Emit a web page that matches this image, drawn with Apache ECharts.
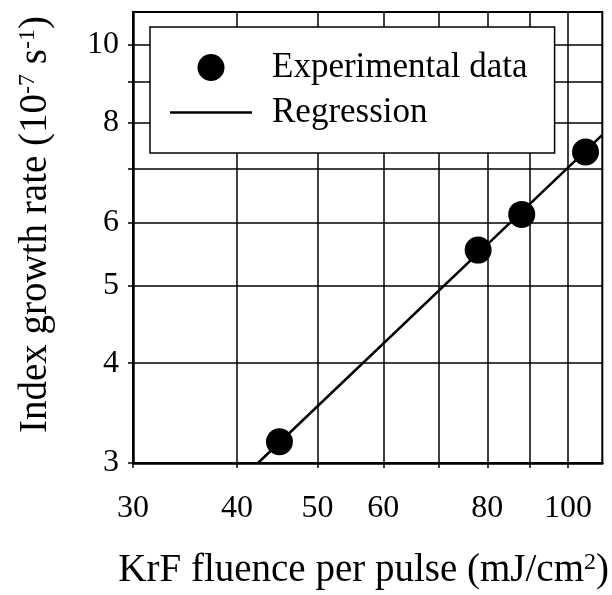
<!DOCTYPE html>
<html>
<head>
<meta charset="utf-8">
<script src="https://cdn.jsdelivr.net/npm/echarts@6/dist/echarts.min.js"></script>
<style>
html,body{margin:0;padding:0;background:#fff;}
#c{width:612px;height:595px;}
</style>
</head>
<body>
<div id="c"></div>
<script>
// Data
var fluence = [45, 78, 88, 105];            // mJ/cm^2
var growthRate = [3.19, 5.54, 6.14, 7.35];  // 1e-7 s^-1
var regressionX = [42.4, 110];
var regressionY = [3.0, 7.72];
var xTicks = [30, 40, 50, 60, 70, 80, 90, 100];
var xLabels = [30, 40, 50, 60, 80, 100];
var yTicks = [3, 4, 5, 6, 7, 8, 9, 10];
var yLabels = [3, 4, 5, 6, 8, 10];

var FONT = 'Liberation Serif';
var expData = fluence.map(function (x, i) { return [x, growthRate[i]]; });
var regData = regressionX.map(function (x, i) { return [x, regressionY[i]]; });

var chart = echarts.init(document.getElementById('c'));
chart.setOption({
  backgroundColor: '#fff',
  animation: false,
  grid: {
    left: 133, right: 6, top: 12, bottom: 127,
    show: true, borderColor: '#000', borderWidth: 2, backgroundColor: 'transparent'
  },
  xAxis: {
    type: 'log', logBase: 10, min: 30, max: 110,
    name: 'KrF fluence per pulse (mJ/cm{sup|2})',
    nameLocation: 'middle', nameGap: 88,
    nameTextStyle: {
      fontFamily: FONT, fontSize: 39, color: '#000', padding: [0, 8, 0, 0],
      rich: { sup: { fontFamily: FONT, fontSize: 24, color: '#000', verticalAlign: 'top' } }
    },
    axisLine: { show: true, lineStyle: { color: '#000', width: 2.5 } },
    axisTick: { show: true, inside: false, length: 5, customValues: xTicks, lineStyle: { color: '#000', width: 1.5 } },
    axisLabel: { customValues: xLabels, fontFamily: FONT, fontSize: 32, color: '#000', margin: 30 },
    splitLine: { show: true, lineStyle: { color: '#000', width: 1.5 } },
    minorTick: { show: false }, minorSplitLine: { show: false }
  },
  yAxis: {
    type: 'log', logBase: 10, min: 3, max: 11,
    name: 'Index growth rate (10{sup|-7} s{sup|-1})',
    nameLocation: 'middle', nameGap: 78, nameRotate: 90,
    nameTextStyle: {
      fontFamily: FONT, fontSize: 39, color: '#000', padding: [0, 0, 0, 26],
      rich: { sup: { fontFamily: FONT, fontSize: 24, color: '#000', verticalAlign: 'top' } }
    },
    axisLine: { show: true, lineStyle: { color: '#000', width: 2.5 } },
    axisTick: { show: true, inside: false, length: 5, customValues: yTicks, lineStyle: { color: '#000', width: 1.5 } },
    axisLabel: { customValues: yLabels, fontFamily: FONT, fontSize: 32, color: '#000', margin: 14 },
    splitLine: { show: true, lineStyle: { color: '#000', width: 1.5 } },
    minorTick: { show: false }, minorSplitLine: { show: false }
  },
  legend: {
    left: 150, top: 27, orient: 'vertical',
    backgroundColor: '#fff', borderColor: '#000', borderWidth: 1.5,
    padding: [23, 27, 23, 20],
    itemWidth: 82, itemHeight: 27, itemGap: 10,
    textStyle: { fontFamily: FONT, fontSize: 35, color: '#000', padding: [0, 0, 0, 15] },
    data: [
      { name: 'Experimental data', icon: 'circle' },
      { name: 'Regression', icon: 'path://M0,0H82V2.5H0Z' }
    ]
  },
  series: [
    {
      name: 'Regression', type: 'line', data: regData,
      symbol: 'none', showSymbol: false,
      lineStyle: { color: '#000', width: 2.5 }, itemStyle: { color: '#000' }, z: 3
    },
    {
      name: 'Experimental data', type: 'scatter', data: expData,
      symbol: 'circle', symbolSize: 27,
      itemStyle: { color: '#000', opacity: 1 }, z: 4
    }
  ]
});
</script>
</body>
</html>
